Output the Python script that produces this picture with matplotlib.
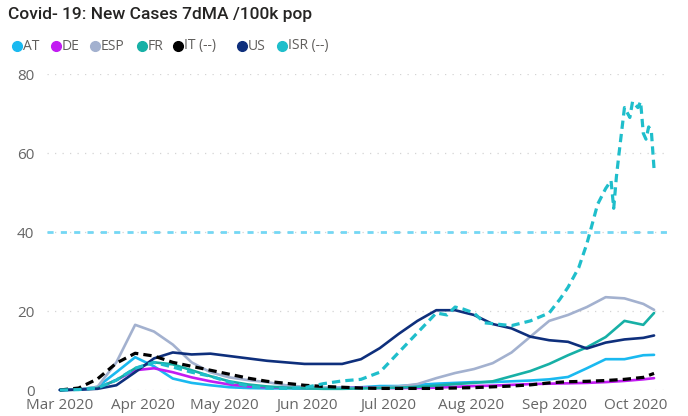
import matplotlib
matplotlib.use("Agg")
import matplotlib.pyplot as plt
import matplotlib.dates as mdates
from matplotlib.lines import Line2D
import pandas as pd

# weekly sample dates (Mar 1 .. Oct 4) plus the last day
dates = list(pd.date_range("2020-03-01", "2020-10-04", freq="7D")) + [pd.Timestamp("2020-10-08")]

at = [0, 0.1, 0.8, 4.5, 8.3, 6.0, 2.9, 1.8, 1.2, 0.7, 0.5, 0.4, 0.4, 0.4, 0.5, 0.6, 0.7,
      1.0, 1.0, 1.3, 1.6, 1.8, 2.0, 2.0, 2.2, 2.4, 2.7, 3.3, 5.5, 7.8, 7.8, 8.8, 8.9]
de = [0, 0.1, 0.5, 2.5, 5.0, 5.5, 4.5, 3.2, 2.2, 1.4, 0.9, 0.7, 0.6, 0.5, 0.4, 0.5, 0.6,
      0.5, 0.5, 0.5, 0.6, 0.8, 1.0, 1.1, 1.3, 1.5, 1.6, 1.7, 1.8, 2.0, 2.3, 2.7, 3.0]
esp = [0, 0.1, 0.8, 7.0, 16.5, 14.8, 11.5, 7.0, 4.5, 3.2, 2.5, 2.0, 1.2, 0.8, 0.6, 0.5, 0.5,
       0.6, 0.9, 1.5, 3.0, 4.3, 5.3, 6.8, 9.5, 13.5, 17.5, 19.0, 21.0, 23.5, 23.2, 21.8, 20.3]
fr = [0, 0.1, 0.5, 2.5, 5.5, 7.0, 6.5, 5.0, 3.5, 2.2, 1.4, 0.9, 0.6, 0.4, 0.3, 0.3, 0.4,
      0.5, 0.6, 0.8, 1.1, 1.5, 1.8, 2.2, 3.5, 4.8, 6.6, 8.8, 10.8, 13.4, 17.5, 16.5, 19.5]
it = [0, 0.5, 2.8, 6.8, 9.3, 8.6, 7.0, 6.0, 5.0, 4.0, 3.0, 2.2, 1.7, 1.2, 0.9, 0.7, 0.5,
      0.4, 0.4, 0.4, 0.4, 0.5, 0.6, 0.8, 1.0, 1.3, 1.8, 2.1, 2.2, 2.4, 2.7, 3.2, 4.2]
us = [0, 0.1, 0.3, 1.2, 4.5, 8.0, 9.5, 9.0, 9.2, 8.6, 8.0, 7.4, 7.0, 6.6, 6.6, 6.6, 7.8,
      10.6, 14.2, 17.5, 20.2, 20.2, 19.0, 16.7, 15.6, 13.5, 12.6, 12.2, 10.5, 12.0, 12.8, 13.2, 13.8]

isr_dates = pd.to_datetime([
    "2020-03-01", "2020-03-08", "2020-03-15", "2020-03-22", "2020-03-29", "2020-04-05",
    "2020-04-12", "2020-04-19", "2020-04-26", "2020-05-03", "2020-05-10", "2020-05-17",
    "2020-05-24", "2020-05-31", "2020-06-07", "2020-06-14", "2020-06-21", "2020-06-28",
    "2020-07-05", "2020-07-12", "2020-07-19", "2020-07-23", "2020-07-26", "2020-07-29",
    "2020-08-02", "2020-08-06", "2020-08-09", "2020-08-13", "2020-08-16", "2020-08-23",
    "2020-08-30", "2020-09-03", "2020-09-06", "2020-09-10", "2020-09-13", "2020-09-15",
    "2020-09-17", "2020-09-20", "2020-09-22", "2020-09-23", "2020-09-24", "2020-09-25",
    "2020-09-27", "2020-09-29", "2020-09-30", "2020-10-02", "2020-10-03", "2020-10-04",
    "2020-10-05", "2020-10-06", "2020-10-07", "2020-10-08"])
isr = [0, 0.1, 0.5, 2.5, 5.5, 7.0,
       5.8, 4.5, 3.5, 2.0, 1.0, 0.5,
       0.4, 0.6, 1.6, 2.3, 2.7, 4.5,
       9.5, 14.5, 19.5, 19.0, 21.0, 20.5,
       19.5, 17.0, 16.8, 16.5, 16.3, 17.5,
       19.5, 23.0, 26.0, 31.0, 37.0, 42.0,
       47.0, 51.0, 53.0, 46.0, 54.0, 60.0,
       71.5, 69.0, 73.0, 71.5, 73.0, 65.0,
       63.5, 66.6, 65.5, 56.0]

ref_level = 40

names = ["AT", "DE", "ESP", "FR", "IT (--)", "US", "ISR (--)"]
colors = ["#1ab9f0", "#c21cf2", "#a3b1cf", "#17b0a6", "#000000", "#0e2f7c", "#1fbecb"]

fig = plt.figure(figsize=(6.88, 4.16), dpi=100)
ax = fig.add_axes([0.0683, 0.0625, 0.9027, 0.7596])

ax.axhline(ref_level, color="#74d7f4", lw=2, ls=(0, (2.2, 2.6)), zorder=1)

series = [at, de, esp, fr, it, us]
for vals, c, n in zip(series, colors[:6], names[:6]):
    if n.startswith("IT"):
        ax.plot(dates, vals, color=c, lw=2.3, ls=(0, (2.6, 1.6)), clip_on=False, zorder=3)
    else:
        ax.plot(dates, vals, color=c, lw=1.9, solid_capstyle="round", clip_on=False, zorder=2)
ax.plot(isr_dates, isr, color=colors[6], lw=2.3, ls=(0, (2.6, 1.6)), clip_on=False, zorder=4)

ax.set_ylim(0, 80)
ax.set_yticks([0, 20, 40, 60, 80])
ax.set_xlim(pd.Timestamp("2020-02-25 05:00"), pd.Timestamp("2020-10-13 05:00"))
ax.xaxis.set_major_locator(mdates.MonthLocator())
ax.xaxis.set_major_formatter(mdates.DateFormatter("%b %Y"))

ax.grid(axis="y", color="#d4d4d4", lw=0.9, ls=(0, (1, 5)))
ax.set_axisbelow(True)
for s in ax.spines.values():
    s.set_visible(False)
ax.tick_params(length=0, colors="#666666", labelsize=11)
ax.tick_params(axis="y", pad=9)
ax.tick_params(axis="x", pad=6)
for lab in ax.get_xticklabels() + ax.get_yticklabels():
    lab.set_fontfamily("Open Sans")

fig.text(8 / 688, 1 - 15 / 416, "Covid- 19: New Cases 7dMA /100k pop", fontsize=12.5,
         color="#252423", va="center", ha="left", family="Roboto", weight="medium")

# legend row
dot_x = [17, 56, 95, 142, 178, 242, 282]
ly = 1 - 46 / 416
for x, c, n in zip(dot_x, colors, names):
    fig.add_artist(Line2D([x / 688], [ly], marker="o", ms=7, color=c, mec=c, lw=0,
                          transform=fig.transFigure))
    fig.text((x + 6) / 688, ly, n, fontsize=10, color="#605e5c", va="center", ha="left",
             family="Open Sans")

fig.savefig("out.png", dpi=100)
